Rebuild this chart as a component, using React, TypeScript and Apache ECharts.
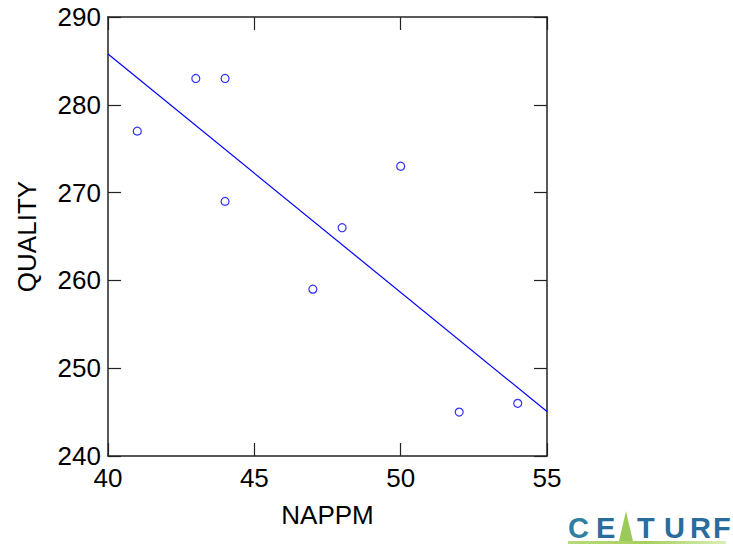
import React, { useEffect, useRef } from "react";
import * as echarts from "echarts";

const nappm = [41, 43, 44, 44, 47, 48, 50, 52, 54];
const quality = [277, 283, 283, 269, 259, 266, 273, 245, 246];
const xTicks = [40, 45, 50, 55];
const yTicks = [240, 250, 260, 270, 280, 290];

const FONT = "'Liberation Sans', Arial, sans-serif";

export default function App() {
  const ref = useRef<HTMLDivElement>(null);
  useEffect(() => {
    if (!ref.current) return;
    const chart = echarts.init(ref.current, null, { renderer: "svg" });
    const n = nappm.length;
    const mx = nappm.reduce((a, b) => a + b, 0) / n;
    const my = quality.reduce((a, b) => a + b, 0) / n;
    let sxy = 0, sxx = 0;
    for (let i = 0; i < n; i++) {
      sxy += (nappm[i] - mx) * (quality[i] - my);
      sxx += (nappm[i] - mx) ** 2;
    }
    const slope = sxy / sxx;
    const xMin = xTicks[0], xMax = xTicks[xTicks.length - 1];
    const fit = [
      [xMin, my + slope * (xMin - mx)],
      [xMax, my + slope * (xMax - mx)],
    ];
    const axisLine = { show: true, lineStyle: { color: "#222", width: 1.5 } };
    const tick = { show: true, inside: true, length: 13, lineStyle: { color: "#222", width: 1.2 } };
    const label = { color: "#000", fontSize: 26, fontFamily: FONT };
    const letters: [string, number][] = [
      ["C", 568], ["E", 596], ["T", 637], ["U", 664], ["R", 690], ["F", 713],
    ];
    chart.setOption({
      animation: false,
      grid: { left: 108, top: 17, width: 439, height: 439, containLabel: false, outerBoundsMode: "none" },
      xAxis: [
        {
          type: "value", min: xMin, max: xMax, interval: 5, position: "bottom",
          name: "NAPPM", nameLocation: "middle", nameGap: 46,
          nameTextStyle: { color: "#000", fontSize: 26, fontFamily: FONT },
          axisLine, axisTick: tick, splitLine: { show: false },
          axisLabel: { ...label, margin: 9 },
        },
        {
          type: "value", min: xMin, max: xMax, interval: 5, position: "top",
          axisLine, axisTick: tick, splitLine: { show: false }, axisLabel: { show: false },
        },
      ],
      yAxis: [
        {
          type: "value", min: yTicks[0], max: yTicks[yTicks.length - 1], interval: 10, position: "left",
          name: "QUALITY", nameLocation: "middle", nameGap: 68, nameRotate: 90,
          nameTextStyle: { color: "#000", fontSize: 26, fontFamily: FONT },
          axisLine, axisTick: tick, splitLine: { show: false },
          axisLabel: { ...label, margin: 7 },
        },
        {
          type: "value", min: yTicks[0], max: yTicks[yTicks.length - 1], interval: 10, position: "right",
          axisLine, axisTick: tick, splitLine: { show: false }, axisLabel: { show: false },
        },
      ],
      series: [
        {
          type: "line", data: fit, symbol: "none", xAxisIndex: 0, yAxisIndex: 0,
          lineStyle: { color: "#0000ff", width: 1.2 }, silent: true,
        },
        {
          type: "scatter", xAxisIndex: 0, yAxisIndex: 0,
          data: nappm.map((x, i) => [x, quality[i]]),
          symbol: "circle", symbolSize: 8,
          itemStyle: { color: "rgba(255,255,255,0)", borderColor: "#0000ff", borderWidth: 1.2 },
        },
      ],
      graphic: [
        {
          type: "rect", shape: { x: 568, y: 541, width: 158, height: 3 },
          style: {
            fill: new echarts.graphic.LinearGradient(0, 0, 1, 0, [
              { offset: 0, color: "#b9db7a" },
              { offset: 0.5, color: "#a6cf5c" },
              { offset: 1, color: "#dbeeb8" },
            ]),
          },
        },
        {
          type: "polygon",
          shape: { points: [[619, 541], [626, 511], [628, 520], [633, 541]] },
          style: { fill: "#9acb5a" },
        },
        ...letters.map(([t, x]) => ({
          type: "text", x, y: 513,
          style: {
            text: t, fontSize: 29, fontWeight: "bold", fontFamily: FONT,
            fill: t === "C" ? "#2f7fa0" : "#2a6d9c",
          },
        })),
      ],
    });
    return () => chart.dispose();
  }, []);
  return (
    <div
      ref={ref}
      style={{ position: "absolute", left: 0, top: 0, width: 733, height: 550, background: "#fff" }}
    />
  );
}
